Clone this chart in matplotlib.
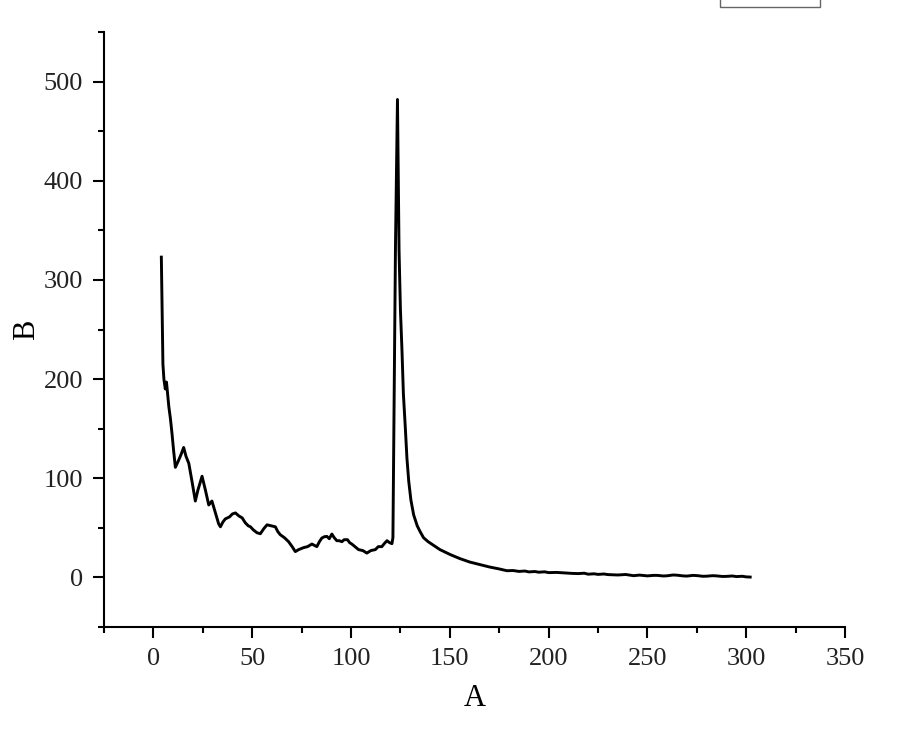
import matplotlib
matplotlib.use("Agg")
import matplotlib.pyplot as plt
from matplotlib.patches import Rectangle
from matplotlib.ticker import MultipleLocator

plt.rcParams["font.family"] = ["Liberation Serif", "DejaVu Serif"]

# --- data ---
a_vals = [
    4.0, 4.3, 4.5, 4.8, 5.3, 6.0, 6.6, 7.2, 7.8, 8.6, 9.4, 10.2, 11.1, 12.5, 14.0,
    15.3, 16.5, 17.9, 19.5, 21.2, 22.5, 24.6, 26.3, 28.0, 29.6, 31.2, 33.0, 33.9,
    35.2, 36.4, 38.5, 40.0, 41.5, 43.2, 44.9, 46.5, 48.0, 49.1, 50.5, 52.4, 54.1,
    55.8, 57.5, 59.5, 61.7, 63.0, 64.2, 66.3, 68.4, 70.2, 71.8, 73.5, 76.0, 78.0,
    80.2, 82.7, 84.0, 85.2, 86.5, 87.8, 89.0, 90.3, 91.5, 92.8, 94.0, 95.4, 96.5,
    98.2, 99.3, 100.4, 102.0, 103.8, 106.0, 108.0, 110.0, 112.3, 113.8, 115.6,
    116.8, 118.2, 119.5, 120.7, 121.2, 122.5, 123.5, 124.3, 125.0, 125.8, 126.5,
    127.5, 128.3, 129.2, 130.3, 131.7, 133.5, 135.0, 136.7, 139.0, 142.0, 145.0,
    150.2, 155.0, 160.0, 165.4, 170.0, 175.0, 178.9, 182.0, 185.0, 188.0, 190.0,
    193.0, 195.0, 198.0, 200.0, 204.0, 209.0, 212.0, 215.0, 218.0, 220.0, 223.0,
    225.0, 228.0, 230.0, 233.0, 235.0, 239.0, 243.0, 246.0, 250.0, 253.0, 255.0,
    258.0, 260.0, 263.0, 265.0, 268.0, 270.0, 273.0, 275.0, 278.0, 280.0, 283.0,
    285.0, 288.0, 290.0, 293.0, 295.0, 298.0, 300.0, 302.0,
]
b_vals = [
    323, 280, 250, 215, 200, 190, 197, 185, 172, 160, 145, 128, 111, 117, 124,
    131, 122, 115, 97, 77, 88, 102, 88, 73, 77, 66, 54, 51,
    56, 59, 61, 64, 65, 62, 60, 55, 52, 51, 48, 45, 44,
    49, 53, 52, 51, 46, 43, 40, 36, 31, 26, 28, 30, 31,
    33.6, 31, 36, 39.6, 41, 41.3, 39, 43.7, 40, 37, 37, 36, 38,
    38, 35, 33.6, 31, 28, 27, 24.5, 27, 28, 31, 31,
    34, 37, 35, 34, 40, 335, 482, 330, 270, 228, 185,
    150, 120, 97, 78, 63, 52, 46, 40, 36, 32, 28,
    23, 19, 15.5, 12.8, 10.5, 8.5, 6.7, 6.9, 6.0, 6.4, 5.5,
    5.9, 5.2, 5.6, 4.8, 5.0, 4.4, 4.0, 3.8, 4.2, 3.2, 3.6,
    3.0, 3.4, 2.8, 2.6, 2.4, 2.9, 1.7, 2.3, 1.5, 2.0, 2.0,
    1.4, 1.6, 2.4, 2.2, 1.5, 1.3, 2.0, 1.8, 1.1, 1.2, 1.7,
    1.5, 0.9, 1.0, 1.4, 0.8, 1.1, 0.5, 0.3,
]

x_label = "A"
y_label = "B"

fig = plt.figure(figsize=(9, 7.29), dpi=100)
ax = fig.add_axes([0.1156, 0.14, 0.8233, 0.816])

ax.plot(a_vals, b_vals, color="black", lw=2.1)

ax.set_xlim(-25, 350)
ax.set_ylim(-50, 550)
ax.xaxis.set_major_locator(MultipleLocator(50))
ax.xaxis.set_minor_locator(MultipleLocator(25))
ax.yaxis.set_major_locator(MultipleLocator(100))
ax.yaxis.set_minor_locator(MultipleLocator(50))

for side in ["top", "right"]:
    ax.spines[side].set_visible(False)
for side in ["left", "bottom"]:
    ax.spines[side].set_linewidth(1.5)

ax.tick_params(which="major", direction="out", length=8, width=1.5,
               labelsize=19, pad=7, colors="black")
ax.tick_params(which="minor", direction="out", length=4, width=1.5)
for lbl in ax.get_xticklabels() + ax.get_yticklabels():
    lbl.set_color("#222222")

ax.set_xlabel(x_label, fontsize=22, labelpad=10)
ax.set_ylabel(y_label, fontsize=22, labelpad=2)

# legend frame cut off at the top edge
fig.patches.append(Rectangle((720 / 900, 1 - 7 / 729), 100 / 900, 0.05,
                             transform=fig.transFigure, fill=False,
                             edgecolor="#666666", lw=1.0))

fig.savefig("out.png", dpi=100)
